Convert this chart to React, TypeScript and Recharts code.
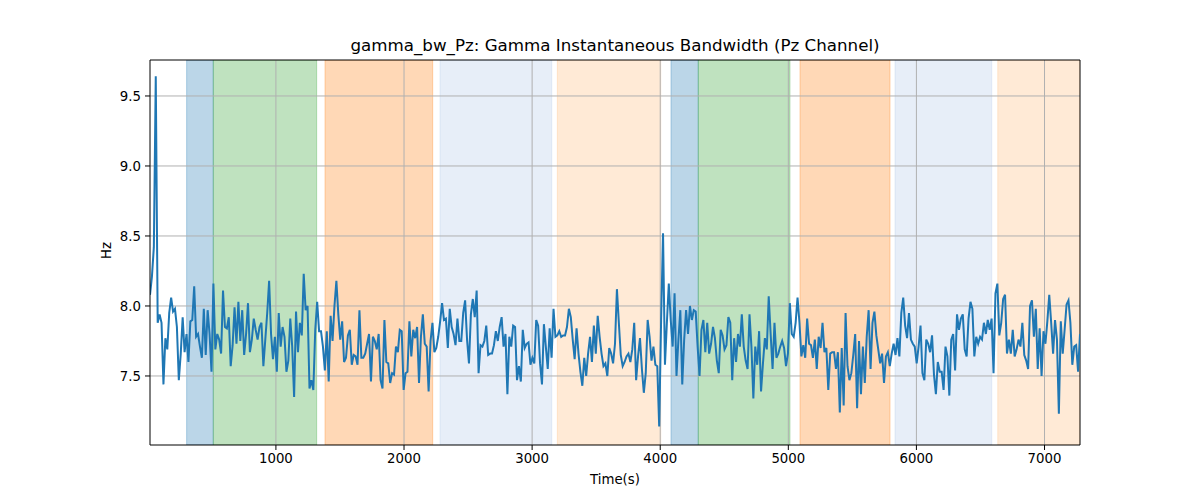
import { LineChart, Line, XAxis, YAxis, ReferenceArea, ReferenceLine } from "recharts";

// gamma bandwidth samples in six stretches (left to right)
const bwPart1 = [
  8.08, 8.21, 8.42, 9.64, 7.88, 7.94, 7.88, 7.44, 7.77, 7.69, 7.95, 8.06, 7.96, 7.98, 7.85, 7.47, 7.66, 7.92, 7.67, 7.8,
  7.6, 7.89, 7.9, 8.14, 7.78, 7.8, 7.71, 7.63, 7.98, 7.65, 7.97, 7.8, 7.53, 8.16, 7.69, 7.8, 7.76, 7.66, 8.11, 7.85,
  7.84, 7.92, 7.57, 7.72, 7.99, 7.73, 8.03, 7.75, 7.97, 7.65, 7.8, 8.02, 7.67, 7.76, 7.91, 7.83, 7.76, 7.85, 7.88, 7.57,
  7.76, 7.95, 8.18, 7.8, 7.62, 7.78, 7.53, 7.95, 7.71, 7.85, 7.78, 7.53, 7.61, 7.91, 7.71, 7.35, 7.96, 7.67, 7.88, 7.79,
  8.23,
];
const bwPart2 = [
  7.97, 8.0, 7.41, 7.47, 7.4, 7.83, 8.03, 7.82, 7.82, 7.71, 7.54, 7.82, 7.46, 7.93, 7.75, 8.0, 8.18, 7.94, 7.76, 7.89,
  7.6, 7.63, 7.79, 7.83, 7.58, 7.65, 7.64, 7.58, 7.97, 7.63, 7.63, 7.66, 7.73, 7.8, 7.46, 7.78, 7.75, 7.69, 7.8, 7.47,
  7.41, 7.9, 7.6, 7.59, 7.45, 7.52, 7.51, 7.71, 7.67, 7.83, 7.82, 7.4, 7.52, 7.53, 7.89, 7.64, 7.83, 7.77, 7.85, 7.45,
  7.78, 7.94, 7.73, 7.71, 7.39, 7.75, 7.88, 7.67, 7.7, 7.78, 7.89, 8.02, 7.9, 7.91, 7.7, 7.98, 7.85, 7.8,
];
const bwPart3 = [
  7.72, 7.91, 7.75, 7.75, 7.95, 8.04, 7.76, 7.59, 7.94, 8.05, 7.92, 8.11, 7.52, 7.72, 7.71, 7.75, 7.86, 7.65, 7.66, 7.66,
  7.72, 7.82, 7.75, 7.85, 7.92, 7.71, 7.8, 7.37, 7.78, 7.71, 7.86, 7.85, 7.47, 7.57, 7.46, 7.83, 7.7, 7.73, 7.74, 7.58,
  7.63, 7.59, 7.9, 7.86, 7.59, 7.44, 7.87, 7.71, 7.55, 7.84, 7.63, 7.98, 7.78, 7.79, 7.82, 7.78, 7.79, 7.79, 7.85, 7.98,
  7.92, 7.76, 7.62, 7.84, 7.66, 7.53, 7.43, 7.63, 7.5, 7.66, 7.78, 7.6, 7.86, 7.66, 7.93, 7.78, 7.66, 7.57,
];
const bwPart4 = [
  7.59, 7.5, 7.7, 7.66, 7.59, 7.73, 8.12, 7.88, 7.65, 7.57, 7.6, 7.64, 7.66, 7.6, 7.69, 7.88, 7.47, 7.64, 7.77, 7.55,
  7.38, 7.52, 7.9, 7.78, 7.61, 7.71, 7.58, 7.57, 7.14, 7.9, 8.52, 7.58, 7.88, 8.16, 7.9, 7.71, 8.09, 7.5, 7.76, 7.97,
  7.44, 7.76, 7.97, 7.8, 8.0, 7.9, 7.97, 7.96, 7.71, 7.5, 7.83, 7.9, 7.67, 7.88, 7.66, 7.73, 7.85, 7.77, 7.61, 7.52,
  7.83, 7.79, 7.69, 7.72, 7.92, 7.88, 7.47, 7.77, 7.6, 7.8, 7.71, 7.94, 7.71, 7.61, 7.55, 7.94, 7.71, 7.34,
];
const bwPart5 = [
  7.71, 7.58, 7.82, 7.39, 7.59, 7.77, 7.69, 8.07, 7.8, 7.55, 7.88, 7.63, 7.66, 7.71, 7.75, 7.7, 7.57, 7.66, 8.02, 7.8,
  7.78, 7.88, 8.06, 7.88, 7.64, 7.72, 7.63, 7.91, 7.73, 7.72, 7.63, 7.76, 7.55, 7.78, 7.7, 7.88, 7.67, 7.7, 7.4, 7.66,
  7.67, 7.67, 7.55, 7.67, 7.24, 7.7, 7.29, 7.95, 7.57, 7.47, 7.52, 7.65, 7.8, 7.27, 7.75, 7.37, 7.71, 7.45, 7.78, 7.97,
  7.55, 7.88, 7.96, 7.79, 7.69, 7.59, 7.66, 7.45, 7.64, 7.67, 7.57, 7.66, 7.73, 7.65, 7.77, 7.64, 7.95, 8.06,
];
const bwPart6 = [
  7.86, 7.77, 7.95, 7.76, 7.73, 7.71, 7.59, 7.71, 7.86, 7.52, 7.47, 7.76, 7.73, 7.67, 7.79, 7.51, 7.37, 7.6, 7.53, 7.53,
  7.4, 7.71, 7.64, 7.36, 7.76, 7.8, 7.54, 7.94, 7.83, 7.91, 7.94, 7.69, 7.64, 7.91, 8.03, 7.98, 7.64, 7.78, 7.73, 7.78,
  7.76, 7.88, 7.8, 7.9, 7.83, 7.91, 7.52, 8.09, 8.16, 7.79, 7.88, 8.05, 8.08, 7.66, 7.76, 7.66, 7.83, 7.64, 7.69, 7.76,
  7.71, 7.88, 7.65, 7.61, 7.55, 8.0, 8.04, 7.78, 7.98, 7.55, 7.84, 7.5, 7.82, 7.73, 7.89, 8.08, 7.88, 7.66, 7.9, 7.76,
  7.23, 7.89, 7.66, 7.83, 8.01, 8.04, 7.88, 7.58, 7.71, 7.72, 7.53, 7.8,
];

// sampling of the time axis (s)
const T_START = 17;
const T_STEP = 15;

// shaded segments
const spanStart = [303, 511, 1383, 2281, 3197, 4084, 4297, 5091, 5833, 6635];
const spanEnd = [511, 1318, 2224, 3153, 4004, 4297, 5013, 5794, 6588, 7277];
const spanColor = [
  "#1f77b4", "#2ca02c", "#ff7f0e", "#aec7e8", "#ffbb78",
  "#1f77b4", "#2ca02c", "#ff7f0e", "#aec7e8", "#ffbb78",
];

const xTicks = [1000, 2000, 3000, 4000, 5000, 6000, 7000];
const yTicks = [7.5, 8.0, 8.5, 9.0, 9.5];
const yDomain = [7.007, 9.757];

const bw = [...bwPart1, ...bwPart2, ...bwPart3, ...bwPart4, ...bwPart5, ...bwPart6];
const data = bw.map((v, i) => ({ t: T_START + i * T_STEP, hz: v }));
const tEnd = T_START + (bw.length - 1) * T_STEP;

const font = "'DejaVu Sans', sans-serif";
const tickStyle = { fontSize: 13.3, fill: "#000", fontFamily: font };
const gridColor = "#b0b0b0";

export default function App() {
  return (
    <div style={{ position: "absolute", left: 0, top: 0, width: 1200, height: 500, background: "#fff", fontFamily: font }}>
      <div style={{ position: "absolute", left: 150, width: 930, top: 35, textAlign: "center", fontSize: 16.7, color: "#000" }}>
        gamma_bw_Pz: Gamma Instantaneous Bandwidth (Pz Channel)
      </div>
      <div style={{ position: "absolute", left: 56, top: 243, width: 100, textAlign: "center", fontSize: 13.3, transform: "rotate(-90deg)", color: "#000" }}>
        Hz
      </div>
      <div style={{ position: "absolute", left: 150, width: 930, top: 472, textAlign: "center", fontSize: 13.3, color: "#000" }}>
        Time(s)
      </div>
      <LineChart width={1200} height={500} data={data} margin={{ top: 60, right: 120, bottom: 25, left: 90 }}>
        {spanStart.map((s, i) => (
          <ReferenceArea
            key={"span" + i}
            x1={s}
            x2={Math.min(spanEnd[i], tEnd)}
            fill={spanColor[i]}
            fillOpacity={0.3}
            stroke={spanColor[i]}
            strokeOpacity={0.3}
            ifOverflow="hidden"
          />
        ))}
        {/* grid drawn over the shaded spans, as matplotlib does */}
        {xTicks.map((t) => (
          <ReferenceLine key={"gx" + t} x={t} stroke={gridColor} strokeWidth={1} />
        ))}
        {yTicks.map((t) => (
          <ReferenceLine key={"gy" + t} y={t} stroke={gridColor} strokeWidth={1} />
        ))}
        <XAxis
          dataKey="t"
          type="number"
          domain={[T_START, tEnd]}
          ticks={xTicks}
          allowDataOverflow
          height={30}
          tickSize={5}
          tickMargin={4}
          tick={tickStyle}
          stroke="#000"
        />
        <YAxis
          type="number"
          domain={yDomain}
          ticks={yTicks}
          allowDataOverflow
          width={60}
          tickSize={5}
          tickMargin={4}
          tick={tickStyle}
          tickFormatter={(v: number) => v.toFixed(1)}
          stroke="#000"
        />
        <ReferenceLine y={yDomain[1]} stroke="#000" strokeWidth={1} ifOverflow="visible" />
        <ReferenceLine x={tEnd} stroke="#000" strokeWidth={1} ifOverflow="visible" />
        <Line type="linear" dataKey="hz" stroke="#1f77b4" strokeWidth={2} dot={false} isAnimationActive={false} />
      </LineChart>
    </div>
  );
}
